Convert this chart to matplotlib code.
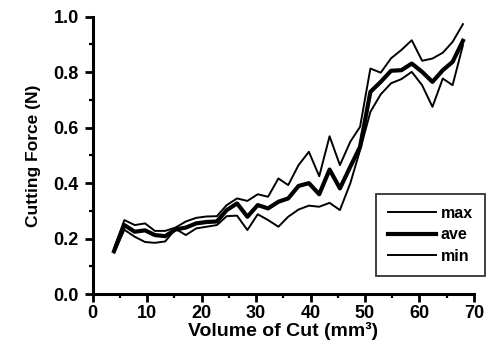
import matplotlib
matplotlib.use("Agg")
import matplotlib.pyplot as plt
from matplotlib.ticker import MultipleLocator

plt.rcParams['font.family'] = ['Liberation Sans', 'DejaVu Sans']

volume = [3.9, 5.8, 7.7, 9.6, 11.4, 13.3, 15.2, 17.1, 19.0, 20.9, 22.8, 24.6,
          26.5, 28.4, 30.3, 32.2, 34.1, 35.9, 37.8, 39.7, 41.6, 43.5, 45.4,
          47.3, 49.1, 51.0, 52.9, 54.8, 56.7, 58.6, 60.5, 62.4, 64.3, 66.1, 68.0]
force_max = [0.165, 0.267, 0.249, 0.255, 0.228, 0.228, 0.240, 0.262, 0.275, 0.280,
             0.281, 0.321, 0.345, 0.336, 0.360, 0.351, 0.417, 0.393, 0.465, 0.513,
             0.425, 0.569, 0.465, 0.549, 0.603, 0.813, 0.798, 0.850, 0.880, 0.915,
             0.841, 0.849, 0.870, 0.909, 0.973]
force_ave = [0.155, 0.249, 0.225, 0.230, 0.213, 0.209, 0.233, 0.240, 0.255, 0.260,
             0.262, 0.303, 0.327, 0.279, 0.321, 0.309, 0.333, 0.345, 0.390, 0.400,
             0.360, 0.449, 0.381, 0.459, 0.531, 0.729, 0.765, 0.805, 0.807, 0.831,
             0.801, 0.765, 0.807, 0.837, 0.913]
force_min = [0.150, 0.232, 0.207, 0.188, 0.185, 0.190, 0.235, 0.213, 0.237, 0.243,
             0.249, 0.281, 0.283, 0.231, 0.288, 0.267, 0.243, 0.279, 0.305, 0.319,
             0.315, 0.329, 0.303, 0.399, 0.519, 0.657, 0.720, 0.760, 0.775, 0.801,
             0.753, 0.675, 0.777, 0.753, 0.897]

fig = plt.figure(figsize=(4.91, 3.54), dpi=100)
ax = fig.add_axes([0.189, 0.169, 0.776, 0.784])

ax.plot(volume, force_max, color='black', lw=1.4, label='max')
ax.plot(volume, force_ave, color='black', lw=3.0, label='ave')
ax.plot(volume, force_min, color='black', lw=1.4, label='min')

ax.set_xlim(0, 70)
ax.set_ylim(0, 1.0)
ax.xaxis.set_major_locator(MultipleLocator(10))
ax.xaxis.set_minor_locator(MultipleLocator(5))
ax.yaxis.set_major_locator(MultipleLocator(0.2))
ax.yaxis.set_minor_locator(MultipleLocator(0.1))
ax.yaxis.set_major_formatter(plt.FuncFormatter(lambda v, p: f"{v:.1f}"))

for s in ['top', 'right']:
    ax.spines[s].set_visible(False)
for s in ['left', 'bottom']:
    ax.spines[s].set_linewidth(2.2)

ax.tick_params(which='major', direction='out', length=6, width=2.0,
               labelsize=13, pad=1.5)
ax.tick_params(axis='y', which='major', pad=4)
ax.tick_params(which='minor', direction='out', length=3, width=1.6)
for lab in ax.get_xticklabels() + ax.get_yticklabels():
    lab.set_fontweight('bold')

ax.set_xlabel('Volume of Cut (mm³)', fontsize=14, fontweight='bold', labelpad=0)
ax.set_ylabel('Cutting Force (N)', fontsize=12.5, fontweight='bold', labelpad=9)

leg = ax.legend(loc='upper left', bbox_to_anchor=(0.743, 0.361),
                frameon=True, fancybox=False, edgecolor='black',
                handlelength=3.0, handletextpad=0.3, borderpad=0.75,
                labelspacing=0.4, borderaxespad=0,
                prop={'size': 11.5, 'weight': 'bold'})
leg.get_frame().set_linewidth(1.3)

fig.savefig('out.png', dpi=100)
